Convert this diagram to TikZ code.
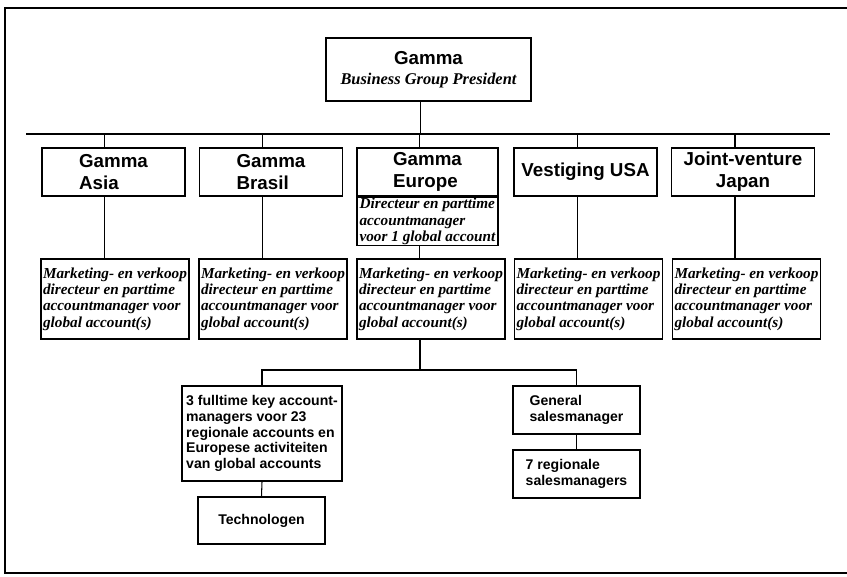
\documentclass[tikz,border=0pt]{standalone}
\usepackage{fontspec}
\setmainfont{Liberation Serif}
\setsansfont{Liberation Sans}
\usetikzlibrary{positioning}

\begin{document}
\begin{tikzpicture}[
  x=0.03cm, y=-0.03cm,
  every node/.style={align=center, inner sep=1.5pt},
  frameline/.style={line width=1pt},
  busline/.style={line width=1.1pt},
  conn/.style={line width=0.9pt},
  headbox/.style={rectangle, draw, line width=1.2pt,
                  minimum width=6.15cm, minimum height=1.89cm},
  unitbox/.style={rectangle, draw, line width=1.2pt,
                  minimum width=4.3cm, minimum height=1.44cm,
                  font=\sffamily\bfseries\fontsize{16}{19}\selectfont},
  dirbox/.style={rectangle, draw, line width=1.2pt, anchor=north,
                 minimum width=4.23cm, minimum height=1.44cm, inner sep=0.5pt,
                 font=\bfseries\itshape\fontsize{13}{14}\selectfont, align=left},
  mkbox/.style={rectangle, draw, line width=1.2pt,
                minimum width=4.44cm, minimum height=2.4cm,
                font=\bfseries\itshape\fontsize{13}{14}\selectfont, align=left},
  salesbox/.style={rectangle, draw, line width=1.2pt,
                   minimum width=3.81cm, minimum height=1.44cm,
                   font=\sffamily\bfseries\fontsize{12}{13.5}\selectfont, align=left}
]
\useasboundingbox (0,0) rectangle (847,576);
\draw[frameline] (847,8) -- (5,8) -- (5,573) -- (847,573);

% TOP: PRESIDENT
\node[headbox] (top) at (428.5,69.5) {{\sffamily\bfseries\fontsize{16}{19}\selectfont Gamma}\\[5pt]
  {\bfseries\itshape\fontsize{14}{16}\selectfont Business Group President}};
\coordinate (busL) at (26,134);
\coordinate (busR) at (830,134);
\draw[busline] (busL) -- (busR);
\draw[conn] ([xshift=-2.4mm]top.south) -- ([xshift=-2.4mm]top.south |- busL);

% ROW 1: UNITS
\node[unitbox, align=left] (asia)   at (113.5,172) {Gamma\\Asia};
\node[unitbox, align=left] (brasil) at (271,172)   {Gamma\\Brasil};
\node[unitbox, align=left, minimum width=4.23cm] (europe) at (427.5,172) {Gamma\\Europe};
\node[unitbox] (usa)   at (585.5,172) {Vestiging USA};
\node[unitbox] (japan) at (743,172)   {Joint-venture\\Japan};
\node[dirbox] (eudir) at (europe.south) {Directeur en parttime\\accountmanager\\voor 1 global account};

\draw[conn] ([xshift=-2.6mm]asia.north)   -- ([xshift=-2.6mm]asia.north |- busL);
\draw[conn] ([xshift=-2.6mm]brasil.north) -- ([xshift=-2.6mm]brasil.north |- busL);
\draw[conn] ([xshift=-2.4mm]europe.north) -- ([xshift=-2.4mm]europe.north |- busL);
\draw[conn] ([xshift=-2.4mm]usa.north)    -- ([xshift=-2.4mm]usa.north |- busL);
\draw[conn] ([xshift=-2.4mm]japan.north)  -- ([xshift=-2.4mm]japan.north |- busL);

% ROW 2: MARKETING EN VERKOOP
\node[mkbox] (asiaMk)   at (115,299)   {Marketing- en verkoop\\directeur en parttime\\accountmanager voor\\global account(s)};
\node[mkbox] (brasilMk) at (273,299)   {Marketing- en verkoop\\directeur en parttime\\accountmanager voor\\global account(s)};
\node[mkbox] (euMk)     at (431,299)   {Marketing- en verkoop\\directeur en parttime\\accountmanager voor\\global account(s)};
\node[mkbox] (usaMk)    at (588.5,299) {Marketing- en verkoop\\directeur en parttime\\accountmanager voor\\global account(s)};
\node[mkbox] (japanMk)  at (746.5,299) {Marketing- en verkoop\\directeur en parttime\\accountmanager voor\\global account(s)};

\draw[conn] ([xshift=-2.6mm]asia.south)   -- ([xshift=-2.6mm]asia.south |- asiaMk.north);
\draw[conn] ([xshift=-2.6mm]brasil.south) -- ([xshift=-2.6mm]brasil.south |- brasilMk.north);
\draw[conn] ([xshift=-2.4mm]eudir.south)  -- ([xshift=-2.4mm]eudir.south |- euMk.north);
\draw[conn] ([xshift=-2.4mm]usa.south)    -- ([xshift=-2.4mm]usa.south |- usaMk.north);
\draw[conn] ([xshift=-2.4mm]japan.south)  -- ([xshift=-2.4mm]japan.south |- japanMk.north);

% ROW 3: EUROPE SALES
\coordinate (split) at (420,370);
\node[salesbox, minimum width=4.8cm, minimum height=2.85cm] (fte) at (262,433.5)
  {3 fulltime key account-\\managers voor 23\\regionale accounts en\\Europese activiteiten\\van global accounts};
\node[salesbox, align=center, minimum height=1.41cm] (tech) at (261.5,520.5) {Technologen};
\node[salesbox] (gsm) at (576.5,410) {General\\salesmanager};
\node[salesbox] (rsm) at (576.5,474) {7 regionale\\salesmanagers};

\draw[conn] (split |- euMk.south) -- (split);
\draw[conn] (fte.north) |- (split);
\draw[conn] (gsm.north) |- (split);
\draw[conn] (fte.south) -- (tech.north);
\draw[conn] (gsm.south) -- (rsm.north);
\end{tikzpicture}
\end{document}
